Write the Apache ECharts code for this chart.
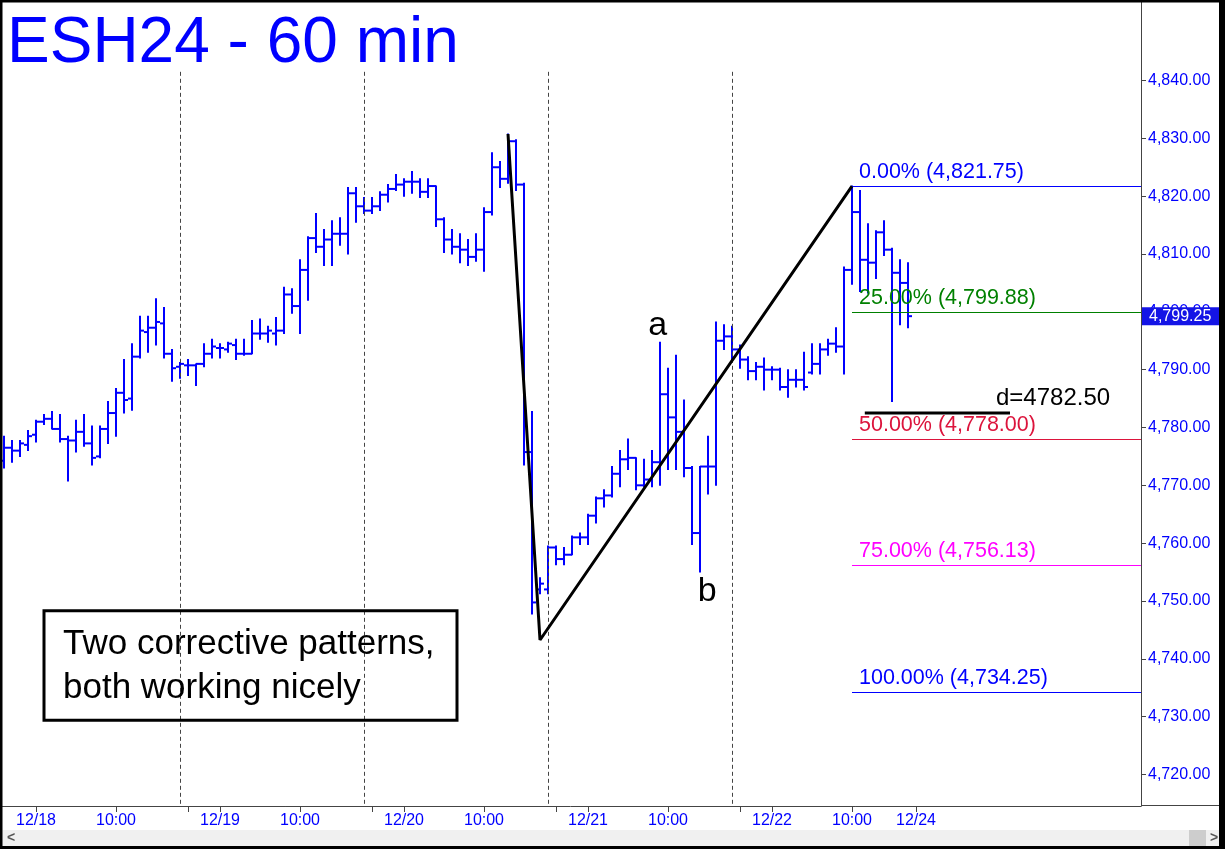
<!DOCTYPE html>
<html>
<head>
<meta charset="utf-8">
<title>ESH24 - 60 min</title>
<script src="https://cdn.jsdelivr.net/npm/echarts@6.0.0/dist/echarts.min.js"></script>
<style>
  html, body { margin: 0; padding: 0; background: #fff; }
  #chart { width: 1225px; height: 849px; }
</style>
</head>
<body>
<div id="chart"></div>
<script>
// hourly bars, index 0 = first visible bar
const opens = [
  4774.25, 4776.5, 4776.0, 4777.0, 4778.75, 4781.0, 4781.5, 4779.75, 4778.0, 4777.75,
  4779.25, 4777.25, 4775.0, 4779.75, 4782.5, 4786.0, 4785.0, 4792.25, 4796.5, 4797.25,
  4798.0, 4792.75, 4790.5, 4790.75, 4790.75, 4791.0, 4792.75, 4793.75, 4793.5, 4794.25,
  4792.75, 4792.75, 4796.25, 4796.25, 4796.25, 4796.75, 4803.0, 4801.0, 4807.25, 4812.75,
  4811.25, 4812.5, 4813.5, 4813.5, 4820.5, 4818.25, 4817.5, 4818.25, 4820.25, 4821.25,
  4822.0, 4822.5, 4822.5, 4820.75, 4821.75, 4816.0, 4812.5, 4811.25, 4810.75, 4809.5,
  4810.75, 4817.25, 4825.0, 4823.0, 4829.5, 4822.0, 4775.75, 4752.0, 4752.0, 4759.25,
  4757.25, 4758.0, 4761.0, 4761.0, 4764.75, 4767.75, 4768.25, 4772.0, 4774.5, 4774.75,
  4770.0, 4771.0, 4774.0, 4785.75, 4781.75, 4779.25, 4773.0, 4761.75, 4773.25, 4773.25,
  4795.0, 4795.75, 4793.5, 4791.75, 4789.75, 4790.5, 4790.0, 4790.0, 4787.0, 4788.25,
  4788.25, 4789.5, 4791.0, 4793.5, 4794.5, 4794.0, 4807.25, 4817.25, 4809.0, 4808.5,
  4813.75, 4810.75, 4806.75, 4805.0
];
const highs = [
  4778.5, 4777.75, 4777.75, 4779.5, 4781.25, 4782.25, 4782.75, 4782.25, 4778.5, 4781.25,
  4782.25, 4780.25, 4780.25, 4784.5, 4786.75, 4791.75, 4794.5, 4799.25, 4799.25, 4802.25,
  4800.75, 4793.5, 4791.25, 4791.75, 4791.0, 4794.5, 4795.25, 4794.5, 4794.75, 4795.25,
  4795.25, 4798.5, 4798.75, 4797.5, 4799.0, 4804.25, 4804.0, 4809.0, 4813.0, 4817.0,
  4814.25, 4815.75, 4816.25, 4821.5, 4821.5, 4819.75, 4819.75, 4820.75, 4822.0, 4823.75,
  4823.0, 4824.25, 4823.0, 4823.0, 4821.75, 4816.25, 4814.25, 4813.5, 4812.5, 4813.5,
  4818.0, 4827.5, 4826.0, 4830.75, 4829.75, 4822.25, 4782.75, 4754.0, 4759.5, 4759.5,
  4759.25, 4761.25, 4761.75, 4765.0, 4768.0, 4769.25, 4773.25, 4776.0, 4778.0, 4774.75,
  4774.5, 4776.0, 4794.75, 4790.25, 4792.5, 4784.75, 4773.25, 4773.25, 4778.5, 4798.25,
  4797.75, 4797.5, 4794.25, 4792.25, 4791.25, 4792.0, 4790.5, 4790.25, 4790.0, 4790.0,
  4793.0, 4794.5, 4794.5, 4795.25, 4797.25, 4807.75, 4821.75, 4821.0, 4815.25, 4814.0,
  4815.75, 4811.0, 4809.0, 4808.5
];
const lows = [
  4773.0, 4774.0, 4775.0, 4776.0, 4777.5, 4780.5, 4779.75, 4777.5, 4770.75, 4775.75,
  4776.75, 4773.5, 4774.75, 4777.25, 4778.5, 4782.5, 4783.0, 4792.0, 4793.0, 4794.25,
  4792.0, 4788.0, 4788.5, 4789.0, 4787.25, 4790.5, 4792.0, 4792.0, 4793.0, 4791.75,
  4792.5, 4792.75, 4795.25, 4794.75, 4794.25, 4796.25, 4799.75, 4796.25, 4802.0, 4810.25,
  4808.0, 4808.0, 4811.5, 4810.0, 4815.5, 4817.0, 4817.0, 4817.5, 4819.0, 4821.0,
  4820.0, 4820.5, 4819.75, 4819.75, 4814.75, 4810.25, 4810.0, 4808.5, 4808.0, 4808.75,
  4807.0, 4816.75, 4821.5, 4822.25, 4821.0, 4773.5, 4747.75, 4751.25, 4751.25, 4756.25,
  4756.25, 4758.0, 4759.75, 4759.75, 4763.5, 4766.25, 4768.0, 4769.75, 4772.75, 4769.25,
  4769.75, 4769.75, 4770.0, 4772.75, 4772.75, 4771.5, 4759.75, 4755.0, 4768.5, 4770.0,
  4793.5, 4791.75, 4790.25, 4788.25, 4788.25, 4786.5, 4788.25, 4786.5, 4785.25, 4787.0,
  4786.5, 4789.25, 4789.25, 4792.5, 4793.0, 4789.25, 4804.75, 4803.5, 4803.25, 4805.75,
  4809.75, 4784.5, 4797.75, 4797.25
];
const closes = [
  4776.5, 4776.0, 4777.25, 4778.5, 4781.0, 4781.5, 4779.75, 4778.0, 4777.75, 4779.25,
  4777.25, 4774.75, 4779.75, 4782.5, 4786.0, 4784.75, 4792.25, 4796.75, 4797.25, 4798.25,
  4792.75, 4790.25, 4791.0, 4790.75, 4791.0, 4792.75, 4794.0, 4793.75, 4794.5, 4792.75,
  4792.75, 4796.25, 4796.25, 4796.75, 4796.75, 4803.0, 4801.0, 4807.25, 4812.75, 4811.25,
  4812.5, 4813.5, 4813.5, 4820.5, 4818.25, 4817.5, 4818.25, 4820.25, 4821.25, 4822.0,
  4822.5, 4822.5, 4820.75, 4821.75, 4816.0, 4812.5, 4811.25, 4810.75, 4809.5, 4810.75,
  4817.25, 4825.0, 4823.0, 4829.5, 4822.0, 4775.75, 4749.75, 4753.0, 4759.25, 4757.25,
  4758.0, 4761.0, 4761.0, 4764.75, 4767.75, 4768.25, 4772.0, 4774.5, 4774.75, 4770.0,
  4771.0, 4774.0, 4785.75, 4781.75, 4779.25, 4773.0, 4761.75, 4773.25, 4773.25, 4795.0,
  4795.75, 4793.5, 4791.75, 4789.75, 4790.5, 4790.0, 4790.0, 4787.0, 4788.25, 4788.25,
  4787.0, 4791.0, 4793.5, 4794.5, 4794.0, 4807.25, 4817.25, 4809.0, 4808.5, 4813.75,
  4810.75, 4806.75, 4805.0, 4799.25
];

// time axis labels (bar index -> text)
const labelIdx = [4, 14, 27, 37, 50, 60, 73, 83, 96, 106, 114];
const labelText = ['12/18', '10:00', '12/19', '10:00', '12/20', '10:00', '12/21', '10:00', '12/22', '10:00', '12/24'];
const minorTickIdx = [23, 46, 69, 92];
const sessionStarts = [22, 45, 68, 91];

const priceTicks = [4720, 4730, 4740, 4750, 4760, 4770, 4780, 4790, 4800, 4810, 4820, 4830, 4840];
const lastPrice = 4799.25;

// fibonacci retracement of the 4,734.25 -> 4,821.75 swing
const fibLevels = [4821.75, 4799.88, 4778.00, 4756.13, 4734.25];
const fibPct = ['0.00%', '25.00%', '50.00%', '75.00%', '100.00%'];
const fibColors = ['#0000ff', '#008000', '#dc143c', '#ff00ff', '#0000ff'];
const fibStart = 106;

// hand drawn swing lines
const swingPts = [[63, 4830.75], [67, 4743.25], [106, 4821.75]];
const dLine = [[107.6, 4782.5], [125.75, 4782.5]];

// text annotations
const noteText = ['a', 'b', 'd=4782.50'];
const noteX = [81.7, 87.9, 124];
const noteY = [4797.7, 4751.7, 4785];

const FONT = '"Liberation Sans", Arial, sans-serif';
const xMin = -0.5, xMax = 142.125;
const yMin = 4714.55, yMax = 4853.92;

function fmt(v) {
  const parts = v.toFixed(2).split('.');
  return parts[0].replace(/\B(?=(\d{3})+(?!\d))/g, ',') + '.' + parts[1];
}

const bars = opens.map((o, i) => [i, o, highs[i], lows[i], closes[i]]);

// one series per fib level so each line keeps its own colour
const fibSeries = fibLevels.map((lvl, i) => ({
  name: 'fib ' + fibPct[i],
  type: 'line',
  data: [],
  z: 4,
  silent: true,
  markLine: {
    silent: true,
    symbol: 'none',
    lineStyle: { color: fibColors[i], width: 1, type: 'solid' },
    label: {
      show: true,
      position: 'insideStartTop',
      distance: [7, 3],
      formatter: fibPct[i] + ' (' + fmt(lvl) + ')',
      color: fibColors[i],
      fontSize: 21.5,
      fontFamily: FONT
    },
    data: [[{ coord: [fibStart, lvl] }, { coord: [xMax, lvl] }]]
  }
}));

const chart = echarts.init(document.getElementById('chart'));

chart.setOption({
  animation: false,
  backgroundColor: '#fff',
  grid: { left: 0, right: 84, top: 0, bottom: 43 },
  xAxis: {
    type: 'value',
    min: xMin,
    max: xMax,
    splitLine: { show: false },
    axisLine: { show: true, onZero: false, lineStyle: { color: '#444', width: 1 } },
    axisTick: {
      show: true,
      customValues: labelIdx.concat(minorTickIdx),
      length: 6,
      lineStyle: { color: '#444' }
    },
    axisLabel: {
      customValues: labelIdx,
      formatter: v => labelText[labelIdx.indexOf(v)],
      color: '#0000ff',
      fontSize: 16,
      fontFamily: FONT,
      margin: 7
    }
  },
  yAxis: {
    type: 'value',
    position: 'right',
    min: yMin,
    max: yMax,
    scale: true,
    splitLine: { show: false },
    axisLine: { show: true, onZero: false, lineStyle: { color: '#444', width: 1 } },
    axisTick: { show: true, customValues: priceTicks, length: 5, lineStyle: { color: '#444' } },
    axisLabel: {
      customValues: priceTicks,
      formatter: v => fmt(v),
      color: '#0000ff',
      fontSize: 16,
      fontFamily: FONT,
      margin: 7
    }
  },
  graphic: [
    // title
    { type: 'text', left: 7, top: 12, z: 10,
      style: { text: 'ESH24 - 60 min', font: '64px ' + FONT, fill: '#0000ff' } },
    // comment box
    { type: 'rect', z: 10, shape: { x: 44, y: 610.7, width: 413, height: 109.6 },
      style: { fill: null, stroke: '#000', lineWidth: 3 } },
    { type: 'text', z: 10, x: 63, y: 644.6,
      style: { text: 'Two corrective patterns,', font: '35px ' + FONT, fill: '#000', verticalAlign: 'middle' } },
    { type: 'text', z: 10, x: 63, y: 687.9,
      style: { text: 'both working nicely', font: '35px ' + FONT, fill: '#000', verticalAlign: 'middle' } },
    // axis line continues under the price panel
    { type: 'line', z: 10, shape: { x1: 1141, y1: 805.5, x2: 1219, y2: 805.5 }, style: { stroke: '#444', lineWidth: 1 } },
    // scroll bar
    { type: 'rect', z: 10, shape: { x: 2, y: 830, width: 1217, height: 16 }, style: { fill: '#f0f0f0' } },
    { type: 'rect', z: 11, shape: { x: 1189, y: 830, width: 17, height: 16 }, style: { fill: '#cdcdcd' } },
    { type: 'text', z: 11, x: 7, y: 838,
      style: { text: '<', font: 'bold 14px ' + FONT, fill: '#555', verticalAlign: 'middle' } },
    { type: 'text', z: 11, x: 1210, y: 838,
      style: { text: '>', font: 'bold 14px ' + FONT, fill: '#555', verticalAlign: 'middle' } },
    // frame
    { type: 'rect', z: 20, shape: { x: 0, y: 0, width: 1225, height: 2.5 }, style: { fill: '#000' } },
    { type: 'rect', z: 20, shape: { x: 0, y: 0, width: 2.5, height: 849 }, style: { fill: '#000' } },
    { type: 'rect', z: 20, shape: { x: 1219, y: 0, width: 6, height: 849 }, style: { fill: '#000' } },
    { type: 'rect', z: 20, shape: { x: 0, y: 846, width: 1225, height: 3 }, style: { fill: '#000' } }
  ],
  series: [
    {
      // session dividers
      name: 'sessions',
      type: 'line',
      data: [],
      z: 1,
      silent: true,
      markLine: {
        silent: true,
        symbol: 'none',
        label: { show: false },
        lineStyle: { color: '#444', width: 1, type: [4, 3] },
        data: sessionStarts.map(k => [{ coord: [k, 4841.5] }, { coord: [k, yMin] }])
      }
    },
    {
      name: 'ESH24',
      type: 'custom',
      z: 3,
      data: bars,
      encode: { x: 0, y: [1, 2, 3, 4] },
      renderItem: function (params, api) {
        const k = api.value(0);
        const pO = api.coord([k, api.value(1)]);
        const pH = api.coord([k, api.value(2)]);
        const pL = api.coord([k, api.value(3)]);
        const pC = api.coord([k, api.value(4)]);
        const x = Math.round(pH[0]);
        return {
          type: 'group',
          children: [
            { type: 'line', shape: { x1: x, y1: pH[1] - 0.5, x2: x, y2: pL[1] + 0.5 },
              style: { stroke: '#0000ff', lineWidth: 2 } },
            { type: 'line', shape: { x1: x - 4, y1: pO[1], x2: x, y2: pO[1] },
              style: { stroke: '#0000ff', lineWidth: 2 } },
            { type: 'line', shape: { x1: x, y1: pC[1], x2: x + 4, y2: pC[1] },
              style: { stroke: '#0000ff', lineWidth: 2 } }
          ]
        };
      }
    },
    {
      name: 'last',
      type: 'line',
      data: [],
      z: 8,
      silent: true,
      markLine: {
        silent: true,
        symbol: 'none',
        lineStyle: { color: 'rgba(0,0,0,0)', width: 1 },
        label: {
          show: true,
          position: 'end',
          distance: 1,
          formatter: () => fmt(lastPrice),
          color: '#fff',
          backgroundColor: '#1414e6',
          padding: [1, 8, 1, 7],
          fontSize: 16,
          fontFamily: FONT
        },
        data: [{ yAxis: lastPrice }]
      }
    }
  ].concat(fibSeries, [
    {
      name: 'swing',
      type: 'line',
      z: 5,
      data: swingPts,
      symbol: 'none',
      silent: true,
      lineStyle: { color: '#000', width: 3 }
    },
    {
      name: 'd',
      type: 'line',
      z: 5,
      data: dLine,
      symbol: 'none',
      silent: true,
      lineStyle: { color: '#000', width: 3 }
    },
    {
      name: 'notes',
      type: 'scatter',
      z: 6,
      symbolSize: 0,
      silent: true,
      itemStyle: { opacity: 1 },
      data: noteText.map((t, i) => ({
        name: t,
        value: [noteX[i], noteY[i]],
        label: {
          show: true,
          position: [0, 0],
          formatter: '{b}',
          color: '#000',
          opacity: 1,
          fontFamily: FONT,
          fontSize: i < 2 ? 34 : 24,
          align: i < 2 ? 'center' : 'left',
          verticalAlign: 'middle'
        }
      }))
    }
  ])
});
</script>
</body>
</html>
